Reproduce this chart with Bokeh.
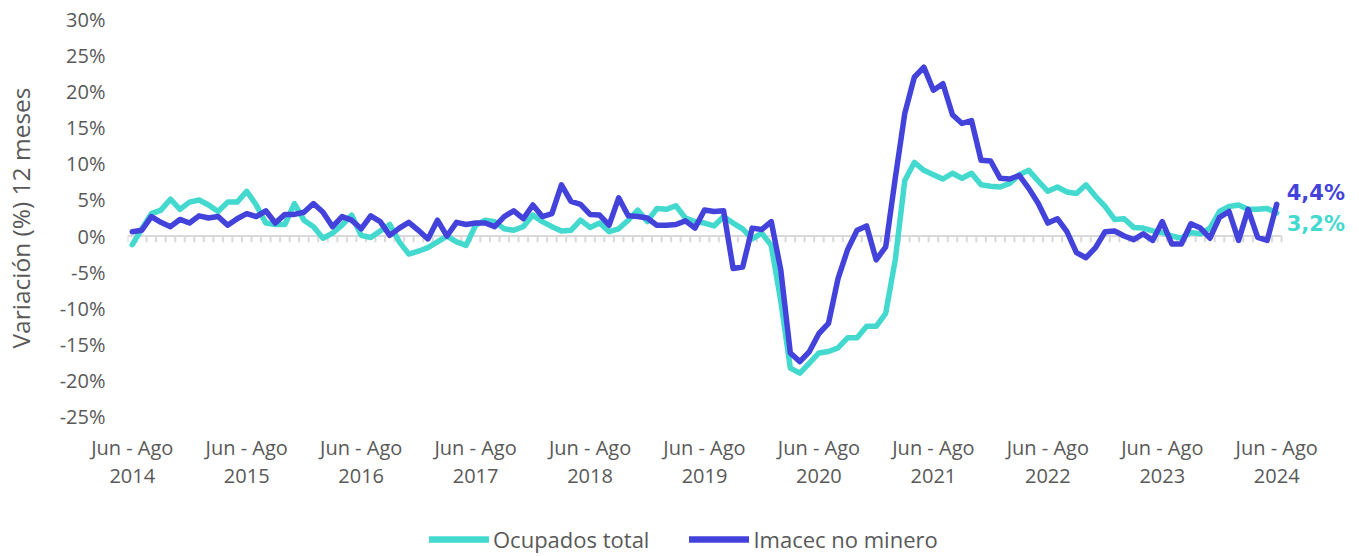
from bokeh.plotting import figure
from bokeh.models import Range1d, FixedTicker, Legend, LegendItem, Label
from bokeh.layouts import column
from bokeh.embed import file_html
from bokeh.resources import INLINE

# ---------------- data ----------------
# monthly moving quarters, Jun-Ago 2014 ... Jun-Ago 2024
years = [2014, 2015, 2016, 2017, 2018, 2019, 2020, 2021, 2022, 2023, 2024]
tick_labels = ["Jun - Ago\n%d" % y for y in years]

ocupados = [
    -1.2, 1.0, 3.1, 3.6, 5.1, 3.7, 4.7, 5.0, 4.3, 3.4, 4.7, 4.7,
    6.2, 4.3, 1.8, 1.6, 1.6, 4.5, 2.2, 1.3, -0.3, 0.4, 1.5, 2.9,
    0.1, -0.2, 0.7, 1.6, -0.8, -2.5, -2.1, -1.6, -0.8, 0.0, -0.8, -1.3,
    1.5, 2.2, 2.0, 1.0, 0.8, 1.3, 2.9, 2.0, 1.3, 0.7, 0.8, 2.2,
    1.2, 1.8, 0.6, 1.0, 2.2, 3.6, 2.0, 3.8, 3.7, 4.2, 2.5, 2.0,
    1.8, 1.4, 2.7, 1.8, 1.0, -0.4, 0.4, -1.3, -9.0, -18.3, -19.0, -17.6,
    -16.2, -16.0, -15.5, -14.1, -14.1, -12.5, -12.5, -10.7, -3.3, 7.7, 10.2, 9.1,
    8.5, 7.9, 8.7, 8.0, 8.7, 7.1, 6.9, 6.8, 7.3, 8.5, 9.1, 7.6,
    6.2, 6.8, 6.1, 5.9, 7.1, 5.5, 4.1, 2.3, 2.4, 1.2, 1.1, 0.7,
    0.5, 0.0, -0.3, 0.5, 0.3, 1.1, 3.4, 4.1, 4.3, 3.7, 3.7, 3.8,
    3.2,
]

imacec = [
    0.6, 0.8, 2.7, 1.9, 1.3, 2.3, 1.8, 2.8, 2.5, 2.7, 1.5, 2.4,
    3.1, 2.7, 3.5, 1.8, 3.0, 3.0, 3.3, 4.5, 3.3, 1.3, 2.7, 2.2,
    1.0, 2.8, 2.0, 0.1, 1.1, 1.9, 0.8, -0.4, 2.2, 0.0, 1.9, 1.6,
    1.8, 1.8, 1.3, 2.7, 3.5, 2.4, 4.3, 2.7, 3.1, 7.1, 4.8, 4.4,
    3.0, 2.9, 1.5, 5.3, 2.8, 2.7, 2.5, 1.5, 1.5, 1.6, 2.1, 1.1,
    3.6, 3.4, 3.5, -4.5, -4.3, 1.1, 0.9, 2.0, -4.7, -16.2, -17.4, -16.0,
    -13.5, -12.1, -5.9, -1.9, 0.8, 1.4, -3.3, -1.5, 8.0, 17.0, 22.0, 23.4,
    20.2, 21.1, 16.8, 15.6, 16.0, 10.5, 10.4, 8.0, 7.9, 8.4, 6.6, 4.5,
    1.8, 2.4, 0.6, -2.3, -3.0, -1.6, 0.6, 0.7, 0.0, -0.5, 0.3, -0.6,
    2.0, -1.1, -1.1, 1.7, 1.1, -0.3, 2.6, 3.4, -0.6, 3.7, -0.2, -0.6,
    4.4,
]

y_ticks = [-25, -20, -15, -10, -5, 0, 5, 10, 15, 20, 25, 30]

# ---------------- styling ----------------
TURQ = "#43D9CF"
BLUE = "#4343DC"
GRAY = "#595959"
AXGRAY = "#D9D9D9"
FONT = "Open Sans"

n = len(ocupados)
periods = list(range(n))
x_ticks = [12 * k for k in range(len(years))]

PX_PER_CAT = 1154 / n          # category width in the reference
FRAME_W = 1220                 # room on the right for the end labels
x_end = -0.5 + FRAME_W / PX_PER_CAT

p = figure(frame_width=FRAME_W, frame_height=397, output_backend="svg",
           toolbar_location=None,
           x_range=Range1d(-0.5, x_end), y_range=Range1d(y_ticks[0], y_ticks[-1]),
           min_border_left=120, min_border_right=3, min_border_top=19,
           min_border_bottom=102)
p.grid.visible = False
p.outline_line_color = None
p.background_fill_color = "white"
p.border_fill_color = "white"

# y axis
ya = p.yaxis[0]
ya.ticker = FixedTicker(ticks=y_ticks)
ya.major_label_overrides = {t: "%d%%" % t for t in y_ticks}
ya.axis_line_color = None
ya.major_tick_line_color = None
ya.minor_tick_line_color = None
ya.major_label_standoff = 16
ya.major_label_text_font = FONT
ya.major_label_text_font_size = "20px"
ya.major_label_text_color = GRAY
ya.axis_label = "Variación (%) 12 meses"
ya.axis_label_text_font = FONT
ya.axis_label_text_font_size = "24.5px"
ya.axis_label_text_font_style = "normal"
ya.axis_label_text_color = GRAY
ya.axis_label_standoff = 20

# x axis (labels at the bottom)
xa = p.xaxis[0]
xa.ticker = FixedTicker(ticks=x_ticks)
xa.major_label_overrides = {t: lab for t, lab in zip(x_ticks, tick_labels)}
xa.axis_line_color = None
xa.major_tick_line_color = None
xa.minor_tick_line_color = None
xa.major_label_standoff = 11
xa.major_label_text_font = FONT
xa.major_label_text_font_size = "20px"
xa.major_label_text_color = GRAY
xa.major_label_text_line_height = 1.07

# zero axis line with monthly tick marks (category boundaries)
bounds = [i - 0.5 for i in range(n + 1)]
p.line([bounds[0], bounds[-1]], [0, 0], line_color=AXGRAY, line_width=2)
p.segment(x0=bounds, y0=[0] * len(bounds), x1=bounds, y1=[-0.85] * len(bounds),
          line_color=AXGRAY, line_width=2)

p.line(periods, ocupados, line_color=TURQ, line_width=5.5,
       line_join="round", line_cap="round")
p.line(periods, imacec, line_color=BLUE, line_width=5.5,
       line_join="round", line_cap="round")

def fmt(v):
    return ("%.1f%%" % v).replace(".", ",")

p.add_layout(Label(x=n - 1, y=imacec[-1], x_offset=10, y_offset=11,
                   text=fmt(imacec[-1]), text_color=BLUE, text_font="DejaVu Sans",
                   text_font_style="bold", text_font_size="21px",
                   text_baseline="middle", text_align="left"))
p.add_layout(Label(x=n - 1, y=ocupados[-1], x_offset=10, y_offset=-11,
                   text=fmt(ocupados[-1]), text_color=TURQ, text_font="DejaVu Sans",
                   text_font_style="bold", text_font_size="21px",
                   text_baseline="middle", text_align="left"))

# legend strip below the chart (its frame is aligned with the chart's frame)
nan = float("nan")
lg = figure(width=1343, height=36, output_backend="svg", toolbar_location=None,
            x_axis_type=None, y_axis_type=None, min_border=0,
            x_range=Range1d(0, 1), y_range=Range1d(0, 1))
lg.grid.visible = False
lg.outline_line_color = None
k1 = lg.line(x=[nan], y=[nan], line_color=TURQ, line_width=6.5, line_cap="round")
k2 = lg.line(x=[nan], y=[nan], line_color=BLUE, line_width=6.5, line_cap="round")
legend = Legend(items=[LegendItem(label="Ocupados total", renderers=[k1]),
                       LegendItem(label="Imacec no minero", renderers=[k2])],
                orientation="horizontal", location=(302, 0),
                glyph_width=60, glyph_height=24, label_standoff=4, spacing=40,
                padding=0, margin=0, border_line_color=None,
                background_fill_alpha=0, label_height=24,
                label_text_font=FONT, label_text_font_size="22px",
                label_text_color=GRAY)
lg.add_layout(legend)

layout = column(p, lg, spacing=0)
open("out.html", "w").write(file_html(layout, INLINE))
